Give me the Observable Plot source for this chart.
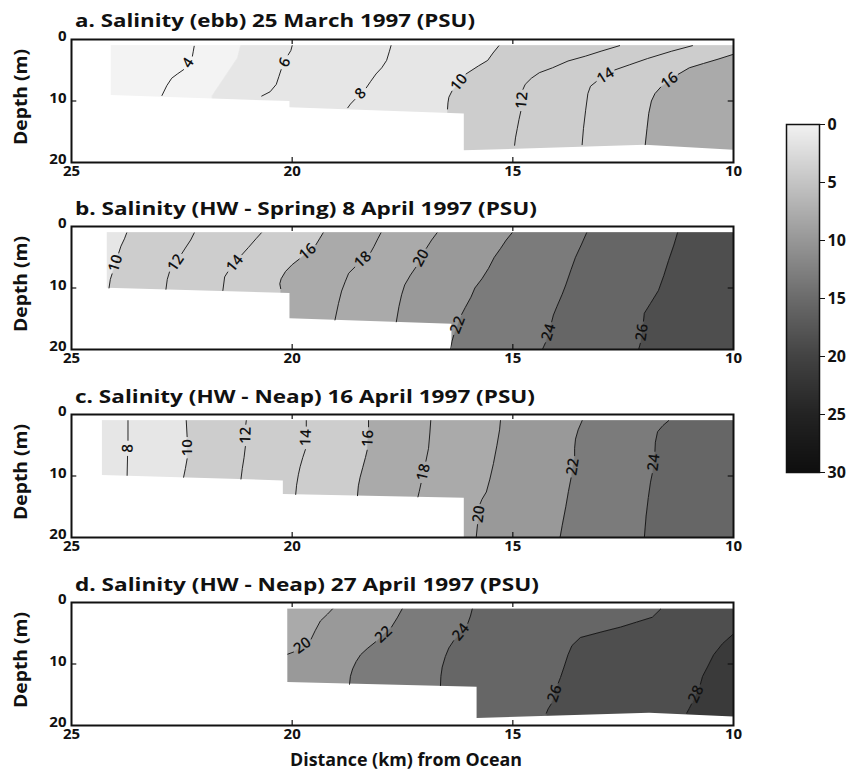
<!DOCTYPE html>
<html><head><meta charset="utf-8">
<script src="https://cdn.jsdelivr.net/npm/d3@7"></script>
<script src="https://cdn.jsdelivr.net/npm/@observablehq/plot@0.6"></script>
<style>
html,body{margin:0;padding:0;background:#fff;}
#chart{position:relative;width:854px;height:773px;overflow:hidden;background:#fff;}
#chart > svg{position:absolute;margin:0;}
</style></head><body><div id="chart"></div>
<script>
// ---------- shared axis / scale values ----------
const kmTicks = [25, 20, 15, 10];
const depthTicks = [0, 10, 20];
const innerKm = [20, 15];
const innerDepth = [10];
const fillLevels = [5, 10, 16, 20, 22, 24, 26, 28];
const fillGrays = ["#f3f3f3","#e6e6e6","#cdcdcd","#aaaaaa","#999999","#7b7b7b","#666666","#4e4e4e","#3a3a3a"];
const barTicks = [0, 5, 10, 15, 20, 25, 30];
const barGrays = ["#f2f2f2","#c4c4c4","#979797","#6b6b6b","#434343","#232323","#0e0e0e"];
const xTitle = "Distance (km) from Ocean";
const yTitle = "Depth (m)";

// ---------- panel a ----------
const aTitle = "a. Salinity (ebb) 25 March 1997 (PSU)";
const aTop = 1.0, aLeft = 24.1, aFirst = 0;
const aBottom = [[24.1,9.1],[20.05,10.1],[20.05,11.1],[16.1,12.1],[16.1,18.1],[12.0,17.2],[10,18.0]];
const aEdge5 = [[21.17,1.0],[21.24,3.0],[21.81,9.1]];
const aContours = [
  {level: 4,  pts: [[22.22,1.1],[22.24,1.9],[22.26,2.7],null,[22.46,4.9],[22.6,5.6],[22.73,6.3],[22.84,7.5],[22.95,9.1]]},
  {level: 6,  pts: [[20.0,1.0],[20.03,1.8],[20.09,2.5],null,[20.25,4.9],[20.3,6.0],[20.36,7.3],[20.5,8.5],[20.69,9.2]]},
  {level: 8,  pts: [[17.76,1.0],[17.8,2.0],[17.86,3.4],[17.97,4.6],[18.1,5.6],[18.22,6.8],[18.32,7.85],null,[18.58,9.75],[18.68,10.5],[18.74,11.1]]},
  {level: 10, pts: [[15.32,1.05],[15.45,2.2],[15.57,3.4],[15.78,4.3],[16.06,5.6],null,[16.38,8.4],[16.45,9.4],[16.47,10.3],[16.48,11.3]]},
  {level: 12, pts: [[12.58,1.0],[13.0,1.9],[13.35,2.7],[13.75,3.5],[14.1,4.6],[14.4,5.4],[14.58,6.3],[14.72,7.3],[14.77,8.1],null,[14.82,11.7],[14.86,13.0],[14.9,14.5],[14.94,16.0],[14.96,17.2]]},
  {level: 14, pts: [[10.93,1.0],[11.4,1.9],[11.95,3.1],[12.35,4.1],[12.69,4.95],null,[13.11,6.85],[13.24,7.6],[13.3,8.8],[13.35,11.5],[13.4,14.5],[13.43,17.1]]},
  {level: 16, pts: [[10.0,2.4],[10.35,3.2],[10.68,3.9],[11.0,4.6],[11.25,5.65],null,[11.65,7.75],[11.78,8.8],[11.86,10.0],[11.92,12.0],[11.96,14.5],[12.0,17.1]]}
];

// ---------- panel b ----------
const bTitle = "b. Salinity (HW - Spring) 8 April 1997 (PSU)";
const bTop = 1.0, bLeft = 24.19, bFirst = 5;
const bBottom = [[24.19,10.05],[20.05,10.9],[20.05,15.0],[16.38,15.9],[16.38,20],[10,20]];
const bContours = [
  {level: 10, pts: [[23.75,1.05],[23.8,2.0],[23.88,3.2],[23.93,4.3],null,[24.08,7.7],[24.12,8.6],[24.15,10.0]]},
  {level: 12, pts: [[22.22,1.05],[22.3,2.2],[22.42,3.5],[22.5,4.4],null,[22.78,7.4],[22.83,8.6],[22.86,10.2]]},
  {level: 14, pts: [[20.7,1.05],[20.82,2.0],[20.99,3.4],[21.14,4.6],null,[21.46,7.4],[21.53,8.2],[21.57,10.4]]},
  {level: 16, pts: [[19.3,1.05],[19.38,2.0],[19.46,2.95],null,[19.84,5.3],[20.0,6.2],[20.15,7.3],[20.25,8.5],[20.28,9.3],[20.26,10.1]]},
  {level: 18, pts: [[17.99,1.05],[18.06,2.0],[18.15,3.3],[18.22,4.2],null,[18.58,6.6],[18.72,7.6],[18.8,9.0],[18.88,10.5],[18.95,12.5],[19.03,15.2]]},
  {level: 20, pts: [[16.72,1.05],[16.84,2.2],[16.96,3.55],null,[17.2,6.65],[17.32,7.9],[17.45,9.5],[17.52,11.1],[17.58,13.0],[17.64,15.5]]},
  {level: 22, pts: [[15.02,1.05],[15.15,2.2],[15.28,3.6],[15.42,5.0],[15.55,6.8],[15.7,8.5],[15.86,10.0],[15.95,11.5],[16.08,13.2],[16.16,14.3],null,[16.34,17.7],[16.38,18.7],[16.41,20]]},
  {level: 24, pts: [[13.33,1.05],[13.45,3.0],[13.58,5.0],[13.68,7.0],[13.8,9.5],[13.88,11.0],[14.0,13.0],[14.08,14.4],[14.12,15.5],null,[14.26,18.9],[14.33,20]]},
  {level: 26, pts: [[11.27,1.05],[11.35,3.0],[11.47,5.5],[11.58,8.0],[11.7,10.4],[11.88,12.5],[12.02,14.1],[12.04,15.4],null,[12.11,19.0],[12.15,20]]}
];

// ---------- panel c ----------
const cTitle = "c. Salinity (HW - Neap) 16 April 1997 (PSU)";
const cTop = 1.0, cLeft = 24.3, cFirst = 5;
const cBottom = [[24.3,9.9],[20.2,10.8],[20.2,13.0],[16.1,13.6],[16.1,20],[10,20]];
const cContours = [
  {level: 8,  pts: [[23.72,1.0],[23.72,4.2],null,[23.73,6.8],[23.74,9.9]]},
  {level: 10, pts: [[22.4,1.0],[22.38,3.6],null,[22.38,7.2],[22.42,8.8],[22.46,10.2]]},
  {level: 12, pts: [[21.04,1.0],[21.05,1.6],null,[21.06,5.2],[21.09,7.0],[21.13,8.8],[21.16,10.5]]},
  {level: 14, pts: [[19.68,1.0],[19.68,1.9],null,[19.7,5.7],[19.76,7.0],[19.82,8.5],[19.86,9.8],[19.9,11.5],[19.92,13.0]]},
  {level: 16, pts: [[18.27,1.0],[18.27,2.0],null,[18.3,5.8],[18.34,7.0],[18.4,8.6],[18.46,10.2],[18.5,11.6],[18.52,13.2]]},
  {level: 18, pts: [[16.86,1.0],[16.88,3.0],[16.91,5.5],[16.97,7.6],null,[17.08,11.2],[17.12,12.5],[17.15,13.4]]},
  {level: 20, pts: [[15.28,1.0],[15.3,2.5],[15.36,5.0],[15.44,8.0],[15.52,10.5],[15.6,12.6],[15.7,13.8],[15.74,14.5],null,[15.8,17.9],[15.83,20]]},
  {level: 22, pts: [[13.43,1.0],[13.52,2.5],[13.58,4.0],[13.6,5.5],[13.6,6.7],null,[13.68,10.3],[13.74,12.5],[13.8,15.0],[13.88,18.0],[13.93,20]]},
  {level: 24, pts: [[11.47,1.0],[11.6,1.8],[11.72,2.8],[11.77,4.5],[11.78,6.0],null,[11.84,9.6],[11.88,11.0],[11.93,13.5],[11.98,16.5],[12.02,20]]}
];

// ---------- panel d ----------
const dTitle = "d. Salinity (HW - Neap) 27 April 1997 (PSU)";
const dTop = 1.07, dLeft = 20.1, dFirst = 16;
const dBottom = [[20.1,13.0],[15.81,13.8],[15.81,18.85],[11.9,18.0],[10,18.6]];
const dContours = [
  {level: 20, pts: [[19.09,1.07],[19.2,1.9],[19.36,3.0],[19.48,4.6],[19.57,5.94],null,[19.97,8.06],[20.1,8.4]]},
  {level: 22, pts: [[17.51,1.07],[17.62,2.5],[17.75,4.0],null,[18.11,6.4],[18.3,7.5],[18.45,8.5],[18.55,9.6],[18.63,10.8],[18.68,12.0],[18.7,13.3]]},
  {level: 24, pts: [[15.92,1.07],[15.96,2.2],[16.02,3.4],null,[16.34,6.2],[16.45,7.4],[16.53,8.8],[16.6,10.5],[16.63,12.0],[16.64,13.5]]},
  {level: 26, pts: [[11.65,1.07],[11.84,2.4],[12.2,3.2],[12.56,4.0],[13.0,4.8],[13.47,5.7],[13.66,7.0],[13.75,8.5],[13.84,10.5],[13.92,12.2],[13.97,13.1],null,[14.13,16.5],[14.2,17.3],[14.24,18.0]]},
  {level: 28, pts: [[10.0,5.1],[10.25,6.7],[10.45,8.5],[10.59,10.5],[10.7,12.0],[10.75,13.3],null,[10.95,16.5],[11.0,17.2],[11.06,18.0]]}
];

const panels = [
  {title: aTitle, top: aTop, left: aLeft, first: aFirst, bottom: aBottom, contours: aContours, extra: [{level: 5, pts: aEdge5}]},
  {title: bTitle, top: bTop, left: bLeft, first: bFirst, bottom: bBottom, contours: bContours, extra: []},
  {title: cTitle, top: cTop, left: cLeft, first: cFirst, bottom: cBottom, contours: cContours, extra: []},
  {title: dTitle, top: dTop, left: dLeft, first: dFirst, bottom: dBottom, contours: dContours, extra: []}
];

// ---------- layout ----------
const chart = document.getElementById("chart");
const FONT = "'Open Sans', 'DejaVu Sans', sans-serif";
const W = 854, ML = 71, MR = 121, MT = 14, FH = 123, MB = 28;
const KX = (W - ML - MR) / 15, KY = FH / 20;
const frameTops = [39, 226, 414, 602];

function ext(pts) {
  const p = pts.filter(Boolean);
  const f = p[0], l = p[p.length - 1];
  const out = [];
  if (f[0] <= 10.05) out.push([8.8, -1], [8.8, f[1]]); else out.push([f[0], -1]);
  out.push(...p);
  if (l[0] <= 10.05) out.push([8.8, l[1]], [8.8, 21]); else out.push([l[0], 21]);
  return out;
}

panels.forEach((P, k) => {
  const bounds = [...P.contours.filter(c => fillLevels.includes(c.level)), ...P.extra]
    .sort((a, b) => a.level - b.level);
  const edges = [[[26, -1], [26, 21]], ...bounds.map(b => ext(b.pts)), [[8.5, -1], [8.5, 21]]];
  const bandRows = [];
  for (let i = 0; i < edges.length - 1; i++) {
    const lvl = i === 0 ? P.first : bounds[i - 1].level;
    const poly = [...edges[i], ...edges[i + 1].slice().reverse()];
    poly.forEach(([x, y]) => bandRows.push({band: i, level: lvl, x, y}));
  }
  const lineRows = [], labelRows = [];
  P.contours.forEach((c, j) => {
    c.pts.forEach((p, i) => {
      lineRows.push({id: j, x: p ? p[0] : NaN, y: p ? p[1] : NaN});
      if (!p) {
        const a = c.pts[i - 1], b = c.pts[i + 1];
        const dx = (b[0] - a[0]) * KX, dy = (a[1] - b[1]) * KY;
        let ang = Math.atan2(dy, dx) * 180 / Math.PI;
        if (ang < -135) ang += 180;
        labelRows.push({x: (a[0] + b[0]) / 2, y: (a[1] + b[1]) / 2, text: String(c.level), rotate: ang});
      }
    });
  });
  // bottom mask reaches past the left frame edge so no seam shows at the domain's left wall
  const bottomMask = [[26, P.bottom[0][1]], ...P.bottom, [8.5, P.bottom[P.bottom.length - 1][1]]];

  const svg = Plot.plot({
    width: W, height: MT + FH + MB,
    marginLeft: ML, marginRight: MR, marginTop: MT, marginBottom: MB,
    x: {domain: [25, 10], axis: null},
    y: {domain: [0, 20], reverse: true, axis: null},
    color: {type: "threshold", domain: fillLevels, range: fillGrays},
    style: {fontFamily: FONT, fontSize: "15px", fontWeight: "700", color: "#111", background: "transparent"},
    marks: [
      Plot.line(bandRows, {x: "x", y: "y", z: "band", fill: "level", stroke: "level", strokeWidth: 0.6, clip: true}),
      Plot.areaY(bottomMask, {x: d => d[0], y1: d => d[1], y2: 21, fill: "white", clip: true}),
      Plot.rect([P.top], {x1: 25.5, x2: 9.5, y1: -1, y2: d => d, fill: "white", clip: true}),
      Plot.rect([P.left], {x1: 25.5, x2: d => d, y1: -1, y2: 21, fill: "white", clip: true}),
      Plot.line(lineRows, {x: "x", y: "y", z: "id", stroke: "#111", strokeWidth: 0.9, clip: true}),
      Plot.text(labelRows, {x: "x", y: "y", text: "text", rotate: "rotate", fontSize: 15, fontWeight: 600, fill: "#111"}),
      Plot.ruleX(innerKm, {y1: 0, y2: 0.8, stroke: "#111", strokeWidth: 1.2}),
      Plot.ruleX(innerKm, {y1: 19.2, y2: 20, stroke: "#111", strokeWidth: 1.2}),
      Plot.ruleY(innerDepth, {x1: 25, x2: 24.88, stroke: "#111", strokeWidth: 1.2}),
      Plot.ruleY(innerDepth, {x1: 10, x2: 10.12, stroke: "#111", strokeWidth: 1.2}),
      Plot.frame({stroke: "#111", strokeWidth: 2}),
      Plot.axisX(kmTicks, {anchor: "bottom", tickSize: 0, tickPadding: 3, label: null}),
      Plot.axisY(depthTicks, {anchor: "left", tickSize: 0, tickPadding: 5, dy: -3, label: null})
    ]
  });
  svg.style.left = "0px";
  svg.style.top = (frameTops[k] - MT) + "px";
  chart.appendChild(svg);
});

// ---------- colour bar ----------
const bar = Plot.plot({
  width: 70, height: 368, marginLeft: 2, marginRight: 35, marginTop: 10, marginBottom: 10,
  x: {domain: [0, 1], axis: null},
  y: {domain: [0, 30], reverse: true, axis: null},
  color: {type: "linear", domain: barTicks, range: barGrays},
  style: {fontFamily: FONT, fontSize: "16px", fontWeight: "700", color: "#111", background: "transparent"},
  marks: [
    Plot.raster({fill: (x, y) => y, x1: 0, x2: 1, y1: 0, y2: 30}),
    Plot.frame({stroke: "#111", strokeWidth: 1.5}),
    Plot.axisY(barTicks, {anchor: "right", tickSize: 5, tickPadding: 3, label: null})
  ]
});
bar.style.left = "784px";
bar.style.top = "114px";
chart.appendChild(bar);

// ---------- titles ----------
const titleBase = [27, 215, 403, 591];
const titleLen = [400, 462, 460, 464];
const ov = d3.select(chart).append("svg")
  .attr("width", W).attr("height", 773)
  .style("left", "0px").style("top", "0px").style("pointer-events", "none")
  .style("font-family", FONT).style("font-weight", "700").attr("fill", "#111");
panels.forEach((P, k) => {
  ov.append("text").attr("x", 75).attr("y", titleBase[k]).attr("font-size", 18.5)
    .attr("textLength", titleLen[k]).attr("lengthAdjust", "spacingAndGlyphs").text(P.title);
  ov.append("text").attr("transform", `translate(27,${frameTops[k] + 58}) rotate(-90)`)
    .attr("text-anchor", "middle").attr("font-size", 17.5)
    .attr("textLength", 96).attr("lengthAdjust", "spacingAndGlyphs").text(yTitle);
});
ov.append("text").attr("x", 406).attr("y", 766).attr("text-anchor", "middle")
  .attr("font-size", 17.5).attr("textLength", 232).attr("lengthAdjust", "spacingAndGlyphs").text(xTitle);
</script>
</body></html>
